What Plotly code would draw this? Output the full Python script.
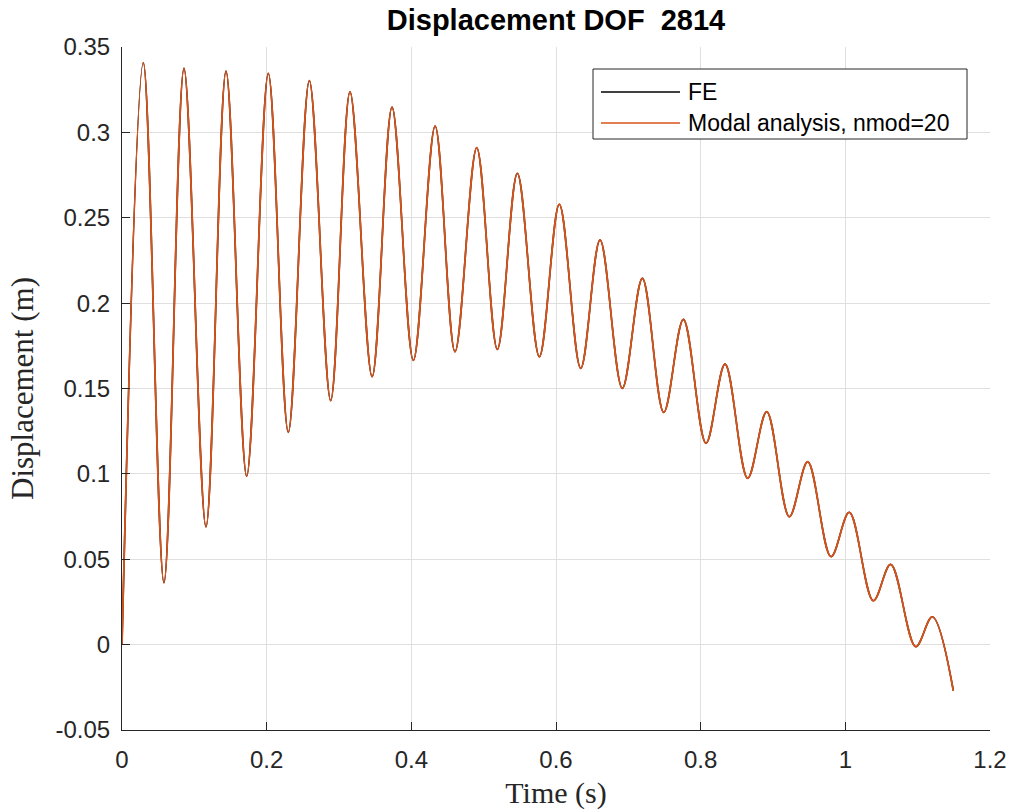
import plotly.graph_objects as go

# Response of DOF 2814: turning points of the displacement history (s, m)
time_s = [0.0, 0.0295, 0.0580, 0.0857, 0.1161, 0.1438, 0.1724, 0.2023, 0.2299, 0.2590,
          0.2885, 0.3152, 0.3458, 0.3733, 0.4028, 0.4329, 0.4604, 0.4904, 0.5189, 0.5466,
          0.5770, 0.6046, 0.6342, 0.6609, 0.6917, 0.7194, 0.7490, 0.7761, 0.8074, 0.8337,
          0.8650, 0.8913, 0.9226, 0.9480, 0.9802, 1.0055, 1.0387, 1.0627, 1.0973, 1.1203,
          1.1493]
disp_fe = [0.0, 0.3408, 0.0363, 0.3375, 0.0690, 0.3359, 0.0987, 0.3346, 0.1243, 0.3303,
           0.1429, 0.3238, 0.1569, 0.3148, 0.1665, 0.3037, 0.1715, 0.2910, 0.1729, 0.2760,
           0.1686, 0.2579, 0.1618, 0.2370, 0.1501, 0.2145, 0.1360, 0.1905, 0.1179, 0.1643,
           0.0974, 0.1364, 0.0749, 0.1071, 0.0515, 0.0775, 0.0257, 0.0470, -0.0012, 0.0163,
           -0.0270]
disp_modal = list(disp_fe)

x_ticks = [0, 0.2, 0.4, 0.6, 0.8, 1.0, 1.2]
x_ticktext = ["0", "0.2", "0.4", "0.6", "0.8", "1", "1.2"]
y_ticks = [-0.05, 0, 0.05, 0.1, 0.15, 0.2, 0.25, 0.3, 0.35]
y_ticktext = ["-0.05", "0", "0.05", "0.1", "0.15", "0.2", "0.25", "0.3", "0.35"]

series_names = ["FE", "Modal analysis, nmod=20"]
series_colors = ["#000000", "#D95319"]

W, H = 1014, 812
ML, MR, MT, MB = 122, 24, 47, 82
AX = "#262626"
GRID = "#dfdfdf"
SANS = "Liberation Sans, Arial"
SERIF = "Liberation Serif, Times New Roman"

fig = go.Figure()
fig.add_trace(go.Scatter(x=time_s, y=disp_fe, mode="lines", name=series_names[0],
                         line=dict(color=series_colors[0], width=1.6, shape="spline", smoothing=1.0),
                         showlegend=False))
fig.add_trace(go.Scatter(x=time_s, y=disp_modal, mode="lines", name=series_names[1],
                         line=dict(color=series_colors[1], width=1.8, shape="spline", smoothing=1.0),
                         showlegend=False))

pw, ph = W - ML - MR, H - MT - MB


def px(xp):
    return (xp - ML) / pw


def py(yp):
    return (H - MB - yp) / ph


# legend box drawn in paper coordinates
box = dict(x0=593, x1=967, y0=69, y1=139)
fig.add_shape(type="rect", xref="paper", yref="paper",
              x0=px(box["x0"]), x1=px(box["x1"]), y0=py(box["y1"]), y1=py(box["y0"]),
              line=dict(color=AX, width=1), fillcolor="white", layer="above")
for i, (name, col) in enumerate(zip(series_names, series_colors)):
    yy = 92 + i * 31
    fig.add_shape(type="line", xref="paper", yref="paper",
                  x0=px(601), x1=px(680), y0=py(yy), y1=py(yy),
                  line=dict(color=col, width=1.5), layer="above")
    fig.add_annotation(xref="paper", yref="paper", x=px(686), y=py(yy),
                       xanchor="left", yanchor="middle", showarrow=False, text=name,
                       font=dict(family=SANS, size=23, color="#000000"))

fig.update_layout(
    width=W, height=H,
    margin=dict(l=ML, r=MR, t=MT, b=MB, autoexpand=False),
    paper_bgcolor="white", plot_bgcolor="white",
    title=dict(text="<b>Displacement DOF  2814</b>", x=(ML + W - MR) / 2 / W, xanchor="center",
               y=1 - 20 / H, yanchor="middle",
               font=dict(family=SANS, size=29, color="#000000")),
    xaxis=dict(range=[0, 1.2], tickvals=x_ticks, ticktext=x_ticktext, automargin=False,
               showgrid=True, gridcolor=GRID, gridwidth=1, zeroline=False,
               showline=True, linecolor=AX, linewidth=1, mirror=False,
               ticks="inside", ticklen=8, tickcolor=AX, ticklabelstandoff=8,
               tickfont=dict(family=SANS, size=24, color=AX),
               title=dict(text="Time (s)", standoff=10,
                          font=dict(family=SERIF, size=30, color=AX))),
    yaxis=dict(range=[-0.05, 0.35], tickvals=y_ticks, ticktext=y_ticktext, automargin=False,
               showgrid=True, gridcolor=GRID, gridwidth=1, zeroline=False,
               showline=True, linecolor=AX, linewidth=1, mirror=False,
               ticks="inside", ticklen=8, tickcolor=AX, ticklabelstandoff=6,
               tickfont=dict(family=SANS, size=24, color=AX),
               title=dict(text="Displacement (m)", standoff=12,
                          font=dict(family=SERIF, size=31, color=AX))),
)

fig.write_html("out.html")
